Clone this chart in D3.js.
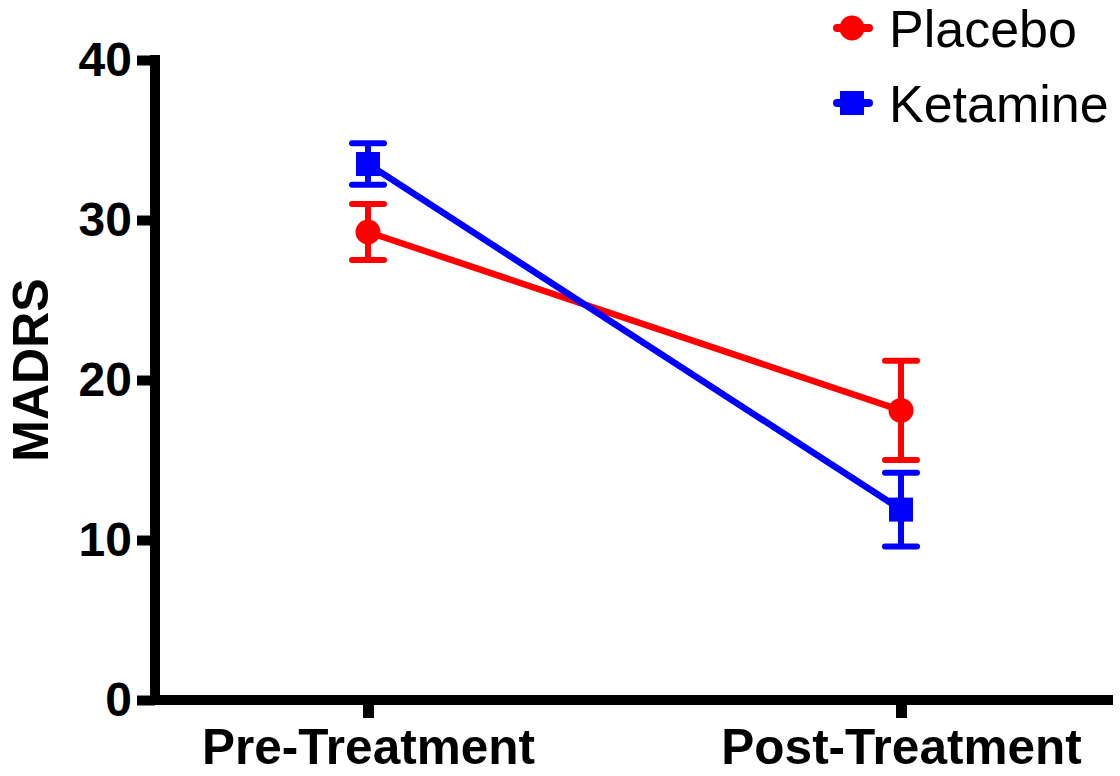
<!DOCTYPE html>
<html>
<head>
<meta charset="utf-8">
<script src="https://cdn.jsdelivr.net/npm/d3@7"></script>
<style>
  html, body { margin: 0; padding: 0; background: #fff; }
  svg { display: block; font-family: "Liberation Sans", Arial, sans-serif; }
</style>
</head>
<body>
<svg id="chart" width="1120" height="776"></svg>
<script>
const categories = ["Pre-Treatment", "Post-Treatment"];
const seriesNames = ["Placebo", "Ketamine"];
const placeboValues = [29.25, 18.1];
const placeboErrors = [1.75, 3.1];
const ketamineValues = [33.5, 11.9];
const ketamineErrors = [1.3, 2.3];
const yTickValues = [0, 10, 20, 30, 40];
const yLabel = "MADRS";

const series = [
  { name: seriesNames[0], values: placeboValues, errors: placeboErrors, color: "#ff0000", shape: "circle" },
  { name: seriesNames[1], values: ketamineValues, errors: ketamineErrors, color: "#0000ff", shape: "square" }
];

const svg = d3.select("#chart");
const axisX = 155, axisY = 700, xEnd = 1113;

const y = d3.scaleLinear().domain([0, 40]).range([700, 60]);
const x = d3.scalePoint().domain(categories).range([368, 901]).padding(0);

// Y axis
const yAxis = d3.axisLeft(y).tickValues(yTickValues).tickSize(18).tickSizeOuter(0).tickPadding(5);
const gy = svg.append("g").attr("transform", `translate(${axisX},0)`).call(yAxis);
gy.select(".domain").remove();
gy.selectAll(".tick line").attr("stroke", "#000").attr("stroke-width", 10);
gy.selectAll(".tick text").attr("fill", "#000").style("font-size", "48px").style("font-weight", "bold")
  .style("font-family", '"Liberation Sans", Arial, sans-serif');

// X axis
const xAxis = d3.axisBottom(x).tickSize(18).tickSizeOuter(0).tickPadding(11);
const gx = svg.append("g").attr("transform", `translate(0,${axisY})`).call(xAxis);
gx.select(".domain").remove();
gx.selectAll(".tick line").attr("stroke", "#000").attr("stroke-width", 11);
gx.selectAll(".tick text").attr("fill", "#000").style("font-size", "49.5px").style("font-weight", "bold")
  .style("font-family", '"Liberation Sans", Arial, sans-serif');

// Axis lines
svg.append("line").attr("x1", axisX).attr("x2", axisX).attr("y1", y(40) - 5).attr("y2", axisY + 5)
  .attr("stroke", "#000").attr("stroke-width", 10);
svg.append("line").attr("x1", axisX - 5).attr("x2", xEnd).attr("y1", axisY).attr("y2", axisY)
  .attr("stroke", "#000").attr("stroke-width", 10);

// Y label
svg.append("text")
  .attr("transform", `translate(48,370) rotate(-90)`)
  .attr("text-anchor", "middle")
  .style("font-size", "50px").style("font-weight", "bold").attr("fill", "#000")
  .text(yLabel);

// Series
const line = d3.line().x((d, i) => x(categories[i])).y(d => y(d));
series.forEach(s => {
  const g = svg.append("g");
  g.append("path").datum(s.values).attr("d", line).attr("fill", "none")
    .attr("stroke", s.color).attr("stroke-width", 6.5);
  s.values.forEach((v, i) => {
    const cx = x(categories[i]);
    const e = s.errors[i];
    g.append("line").attr("x1", cx).attr("x2", cx).attr("y1", y(v + e)).attr("y2", y(v - e))
      .attr("stroke", s.color).attr("stroke-width", 6);
    [v + e, v - e].forEach(c => {
      g.append("line").attr("x1", cx - 16).attr("x2", cx + 16).attr("y1", y(c)).attr("y2", y(c))
        .attr("stroke", s.color).attr("stroke-width", 6).attr("stroke-linecap", "round");
    });
    if (s.shape === "circle") {
      g.append("circle").attr("cx", cx).attr("cy", y(v)).attr("r", 12.5).attr("fill", s.color);
    } else {
      g.append("rect").attr("x", cx - 12).attr("y", y(v) - 12).attr("width", 24).attr("height", 24).attr("fill", s.color);
    }
  });
});

// Legend
const legendY = [28, 103];
series.forEach((s, i) => {
  const ly = legendY[i];
  const g = svg.append("g");
  g.append("line").attr("x1", 837).attr("x2", 869).attr("y1", ly).attr("y2", ly)
    .attr("stroke", s.color).attr("stroke-width", 8).attr("stroke-linecap", "round");
  if (s.shape === "circle") {
    g.append("circle").attr("cx", 852).attr("cy", ly).attr("r", 12.5).attr("fill", s.color);
  } else {
    g.append("rect").attr("x", 840).attr("y", ly - 12).attr("width", 24).attr("height", 24).attr("fill", s.color);
  }
  g.append("text").attr("x", 889).attr("y", ly + 19).attr("fill", "#000")
    .style("font-size", "52px").text(s.name);
});
</script>
</body>
</html>
